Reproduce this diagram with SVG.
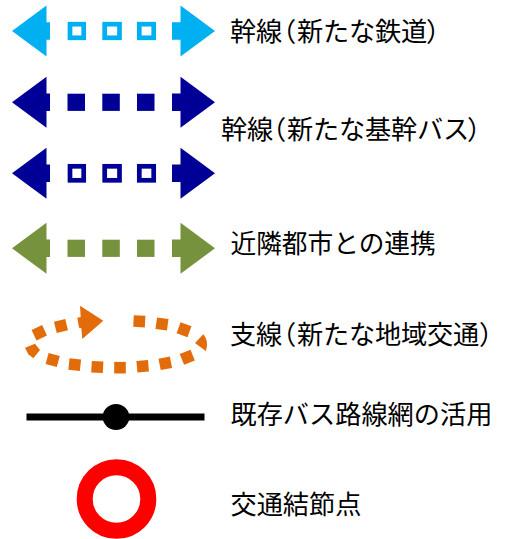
<svg xmlns="http://www.w3.org/2000/svg" width="506" height="539" viewBox="0 0 506 539">
<style>
text{font-family:"Noto Sans CJK JP","Liberation Sans",sans-serif;font-size:26.2px;fill:#000}
.open{fill:#fff;stroke-width:4.7}
</style>
<defs>
<path id="ends" d="M12 0L46.500 -25.500V-8.700H50V8.700H46.500V25.500ZM215 0L180.500 -25.500V-8.700H172V8.700H180.500V25.500Z"/>
<rect id="dash" x="-5.800" y="-5.800" width="11.600" height="11.600"/>
</defs>
<rect width="506" height="539" fill="#fff"/>
<g id="connectors">
<g id="trunk-rail" transform="translate(0 31)" fill="#00b0f0" stroke="#00b0f0">
<use href="#ends" stroke="none"/>
<rect class="open" x="70" y="-6.800" width="13.700" height="13.600"/><rect class="open" x="104.700" y="-6.800" width="14.800" height="13.600"/><rect class="open" x="139.300" y="-6.800" width="14.400" height="13.600"/>
</g>
<g id="trunk-bus-solid" transform="translate(0 102.300)" fill="#000096">
<use href="#ends"/>
<rect x="67.500" y="-8.600" width="17.500" height="17.200"/><rect x="102.300" y="-8.600" width="17.500" height="17.200"/><rect x="137" y="-8.600" width="17.500" height="17.200"/>
</g>
<g id="trunk-bus-open" transform="translate(0 173.300)" fill="#000096" stroke="#000096">
<use href="#ends" stroke="none"/>
<rect class="open" x="70" y="-7" width="13.700" height="14"/><rect class="open" x="104.700" y="-7" width="14.800" height="14"/><rect class="open" x="139.300" y="-7" width="14.400" height="14"/>
</g>
<g id="neighbour-link" transform="translate(0 248.300)" fill="#76923c">
<use href="#ends"/>
<rect x="67.500" y="-8.600" width="17.500" height="17.200"/><rect x="102.300" y="-8.600" width="17.500" height="17.200"/><rect x="137" y="-8.600" width="17.500" height="17.200"/>
</g>
<g id="branch" fill="#e36c0a">
<path d="M80 305.700L103.300 320.700L82.300 339L81.300 328L79 327.700L77.300 317.700L80.700 317Z"/>
<path d="M25 347.700L35 343.700L40 350L33.300 358.300L28.300 354.300Z"/>
<path d="M195 343L203.300 334.300C206.500 338 208.500 344 205.700 351Z"/>
<use href="#dash" transform="translate(39.300 332.700) rotate(-25)"/>
<use href="#dash" transform="translate(61 326) rotate(-14)"/>
<use href="#dash" transform="translate(139.300 321.300) rotate(3)"/>
<use href="#dash" transform="translate(162 324) rotate(8)"/>
<use href="#dash" transform="translate(184 329.700) rotate(20)"/>
<use href="#dash" transform="translate(187.300 357.300) rotate(-22)"/>
<use href="#dash" transform="translate(165.300 363.300) rotate(-11)"/>
<use href="#dash" transform="translate(142.700 366.300) rotate(-5)"/>
<use href="#dash" transform="translate(120 367.700)"/>
<use href="#dash" transform="translate(97.300 367) rotate(3)"/>
<use href="#dash" transform="translate(74.700 364.700) rotate(6)"/>
<use href="#dash" transform="translate(52.700 360) rotate(15)"/>
</g>
<g id="existing-bus">
<rect x="26.500" y="413.500" width="178" height="7" fill="#000"/>
<ellipse cx="116" cy="417" rx="13.300" ry="13" fill="#000"/>
</g>
</g>
<g id="node-hub"><circle cx="116.500" cy="499" r="31.800" fill="#fff" stroke="#f00" stroke-width="16"/></g>
<g id="label-1"><text y="41" x="230 256 270 297 323 349 375 401 426">幹線（新たな鉄道）</text></g>
<g id="label-2"><text y="139" x="221 247 260 287 313 339 365 391 417 443 467">幹線（新たな基幹バス）</text></g>
<g id="label-3"><text x="230.500" y="253" style="font-size:25.7px">近隣都市との連携</text></g>
<g id="label-4"><text y="344" x="230 256 270 297 323 349 375 401 427 453 479">支線（新たな地域交通）</text></g>
<g id="label-5"><text x="230.500" y="424">既存バス路線網の活用</text></g>
<g id="label-6"><text x="230.500" y="514">交通結節点</text></g>
</svg>
